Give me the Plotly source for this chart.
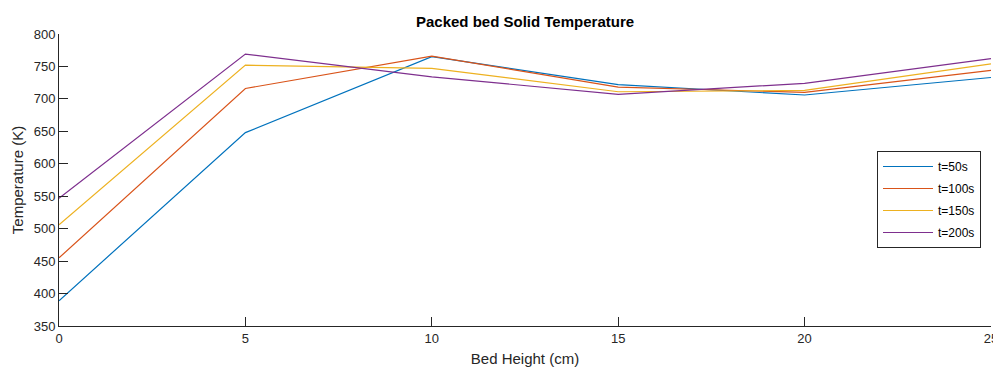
import plotly.graph_objects as go

heights = [0, 5, 10, 15, 20, 25]
t50 = [389, 648, 765, 722, 706, 733]
t100 = [455, 716, 766, 718, 710, 744]
t150 = [506, 752, 747, 711, 713, 754]
t200 = [547, 769, 734, 707, 724, 762]
names = ["t=50s", "t=100s", "t=150s", "t=200s"]
colors = ["#0072BD", "#D95319", "#EDB120", "#7E2F8E"]

fig = go.Figure()
for name, ys, c in zip(names, [t50, t100, t150, t200], colors):
    fig.add_trace(go.Scatter(x=heights, y=ys, mode="lines", name=name,
                             legendgroup=name,
                             line=dict(color=c, width=1.2)))

axis_common = dict(showline=True, linecolor="#262626", linewidth=1,
                   ticks="inside", ticklen=9, tickcolor="#262626",
                   showgrid=False, zeroline=False, automargin=False,
                   tickfont=dict(family="Liberation Sans, Arial", size=13, color="#262626"))

# page body has an 8px margin, so the figure is made 8px smaller and shifted
W, H = 993, 361
fig.update_layout(
    width=W, height=H,
    margin=dict(l=51, r=10, t=26, b=43),
    paper_bgcolor="white", plot_bgcolor="white",
    title=dict(text="<b>Packed bed Solid Temperature</b>", x=0.5, xanchor="center",
               xref="paper", yref="container", y=1 - 14 / H, yanchor="middle",
               font=dict(family="Liberation Sans, Arial", size=15, color="#000000")),
    xaxis=dict(range=[0, 25], tickvals=[0, 5, 10, 15, 20, 25],
               title=dict(text="Bed Height (cm)", standoff=8,
                          font=dict(family="Liberation Sans, Arial", size=15, color="#262626")),
               **axis_common),
    yaxis=dict(range=[350, 800], tickvals=list(range(350, 801, 50)),
               title=dict(text="Temperature (K)", standoff=6,
                          font=dict(family="Liberation Sans, Arial", size=15, color="#262626")),
               **axis_common),
    legend=dict(x=(877 - 59) / 932, y=(326 - 151) / 292, xanchor="left", yanchor="top",
                bgcolor="white", bordercolor="#262626", borderwidth=1,
                font=dict(family="Liberation Sans, Arial", size=12, color="#000000"),
                traceorder="grouped", tracegroupgap=3, itemwidth=50,
                entrywidth=49, entrywidthmode="pixels"),
    showlegend=True,
)

fig.write_html("out.html")
